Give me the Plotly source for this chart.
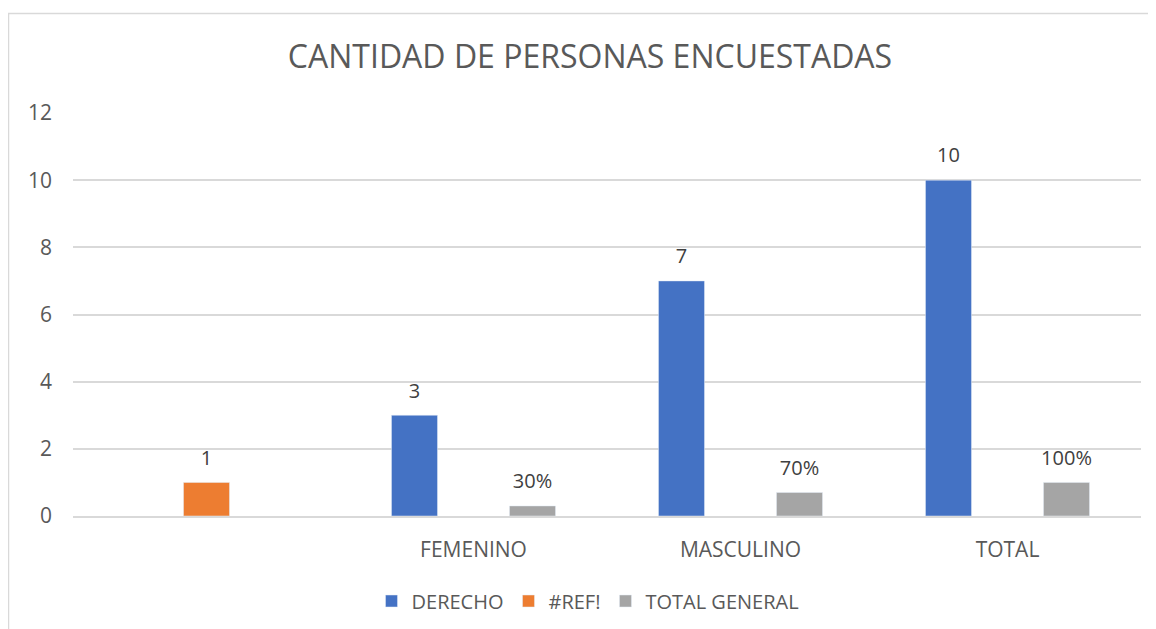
import plotly.graph_objects as go

categories = [" ", "FEMENINO", "MASCULINO", "TOTAL"]
derecho = [None, 3, 7, 10]
ref_err = [1, None, None, None]
total_general = [None, 0.3, 0.7, 1.0]
total_general_labels = ["", "30%", "70%", "100%"]
y_ticks = [0, 2, 4, 6, 8, 10, 12]

FONT = "Open Sans"
TXT = "#595959"
LBL = "#404040"

# plot area in figure coordinates (page has an 8px body margin)
L, R, T, B = 65, 1133, 105, 508
W, H = 1156, 629
PW, PH = R - L, B - T

def px_x(x):
    return (x - L) / PW

def px_y(y):
    return (B - y) / PH

fig = go.Figure()
for name, vals, txt, col in [
    ("DERECHO", derecho, [("" if v is None else str(v)) for v in derecho], "#4472C4"),
    ("#REF!", ref_err, [("" if v is None else str(v)) for v in ref_err], "#ED7D31"),
    ("TOTAL GENERAL", total_general, total_general_labels, "#A5A5A5"),
]:
    fig.add_trace(go.Bar(
        name=name, x=categories, y=vals,
        marker=dict(color=col),
        text=txt, textposition="outside", constraintext="none",
        texttemplate='<span style="font-size:20px">%{text}</span><br>&nbsp;',
        textfont=dict(family=FONT, size=9, color=LBL), cliponaxis=False))

fig.update_layout(
    width=W, height=H,
    margin=dict(l=L, r=W - R, t=T, b=H - B),
    paper_bgcolor="white", plot_bgcolor="white",
    barmode="group", bargap=0.337, bargroupgap=0.22,
    font=dict(family=FONT, color=TXT, size=20),
    title=dict(text="CANTIDAD DE PERSONAS ENCUESTADAS", x=(582) / W, xanchor="center",
               y=1 - 49 / H, yanchor="middle",
               font=dict(family=FONT, size=32, color=TXT)),
    showlegend=True,
    legend=dict(orientation="h", x=px_x(580), xanchor="center", y=px_y(593),
                yanchor="middle", font=dict(family=FONT, size=20, color=TXT),
                traceorder="normal"),
    xaxis=dict(showgrid=False, showline=True, linecolor="#D9D9D9", linewidth=1.5,
               ticks="", ticklabelstandoff=14, tickfont=dict(size=21, color=TXT)),
    yaxis=dict(range=[0, 12], tickvals=y_ticks, showgrid=True, gridcolor="#D9D9D9",
               gridwidth=1.5, zeroline=False, showline=False, ticks="",
               ticklabelstandoff=20, tickfont=dict(size=21, color=TXT)),
    shapes=[dict(type="rect", xref="paper", yref="paper",
                 x0=px_x(0.5), x1=1.2, y0=-0.5, y1=px_y(5.5),
                 line=dict(color="#D9D9D9", width=1.5), layer="below")],
)

fig.write_html("out.html")
